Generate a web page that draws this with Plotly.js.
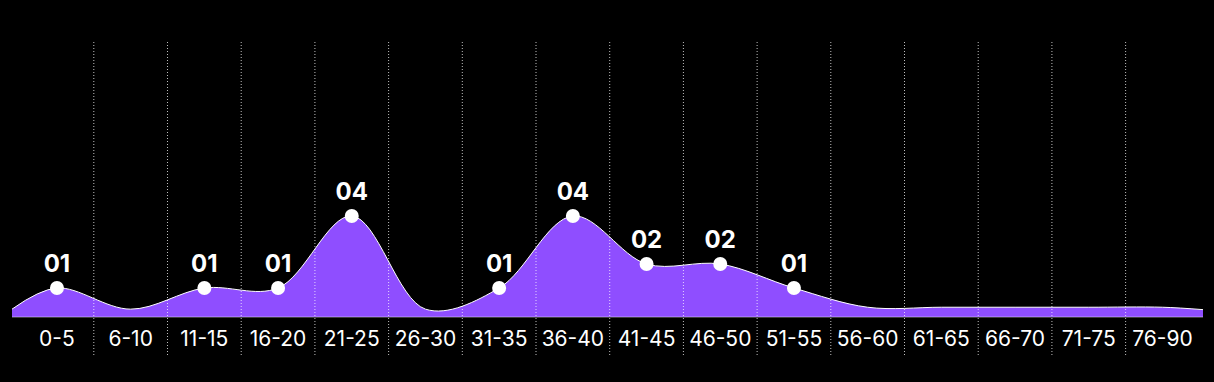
<!DOCTYPE html>
<html><head><meta charset="utf-8">
<script src="https://cdn.plot.ly/plotly-3.0.1.min.js"></script>
<style>html,body{margin:0;padding:0;background:#000;}#chart{width:1214px;height:382px;}</style>
</head><body><div id="chart"></div>
<script>
const categories = ['0-5','6-10','11-15','16-20','21-25','26-30','31-35','36-40','41-45','46-50','51-55','56-60','61-65','66-70','71-75','76-90'];
const counts = [1,0,1,1,4,0,1,4,2,2,1,0,0,0,0,0];
const curveValues = [1,0.12,1,1,4,0.12,1,4,2,2,1,0.2,0.2,0.2,0.2,0.2];
const edgeValues = [0.12, 0.1];

const X_MIN = -0.61, X_MAX = 15.55;
const Y_MIN = -1.79, Y_MAX = 11.29;
const BASE = -0.21;
const LABEL_Y = -1.2;

const idx = categories.map((_, i) => i);
const boundaries = idx.slice(0, -1).map(i => i + 0.5);

const baseTrace = {
  x: [X_MIN, X_MAX], y: [BASE, BASE], mode: 'lines',
  line: {color: 'rgba(255,255,255,0.45)', width: 1},
  hoverinfo: 'skip', showlegend: false
};
const areaTrace = {
  x: [X_MIN, ...idx, X_MAX],
  y: [edgeValues[0], ...curveValues, edgeValues[1]],
  mode: 'lines', fill: 'tonexty',
  fillcolor: 'rgb(143,78,255)',
  line: {shape: 'spline', smoothing: 1, color: '#ffffff', width: 1},
  hoverinfo: 'skip', showlegend: false
};
const nz = idx.filter(i => counts[i] > 0);
const markerTrace = {
  x: nz, y: nz.map(i => counts[i]),
  text: nz.map(i => String(counts[i]).padStart(2, '0')),
  mode: 'markers+text', textposition: 'top center',
  marker: {color: '#ffffff', size: 14},
  textfont: {color: '#ffffff', size: 24, family: 'Inter, "Open Sans", sans-serif', weight: 700},
  cliponaxis: false, showlegend: false, hoverinfo: 'skip'
};
const labelTrace = {
  x: idx, y: idx.map(() => LABEL_Y), text: categories,
  mode: 'text', textposition: 'middle center',
  textfont: {color: '#ffffff', size: 21, family: 'Inter, "Open Sans", sans-serif'},
  cliponaxis: false, showlegend: false, hoverinfo: 'skip'
};

const gridShapes = boundaries.map(b => ({
  type: 'line', xref: 'x', yref: 'paper', x0: b, x1: b, y0: 0, y1: 1,
  line: {color: 'rgba(255,255,255,0.75)', width: 1, dash: '1px,2px'},
  layer: 'above'
}));

const layout = {
  width: 1214, height: 382,
  paper_bgcolor: '#000000', plot_bgcolor: '#000000',
  margin: {l: 12, r: 11, t: 41, b: 27},
  xaxis: {range: [X_MIN, X_MAX], showgrid: false, showticklabels: false, zeroline: false, showline: false, ticks: ''},
  yaxis: {range: [Y_MIN, Y_MAX], showgrid: false, zeroline: false, showticklabels: false, showline: false},
  shapes: gridShapes,
  showlegend: false
};
Plotly.newPlot('chart', [baseTrace, areaTrace, markerTrace, labelTrace], layout, {staticPlot: true});
</script></body></html>
